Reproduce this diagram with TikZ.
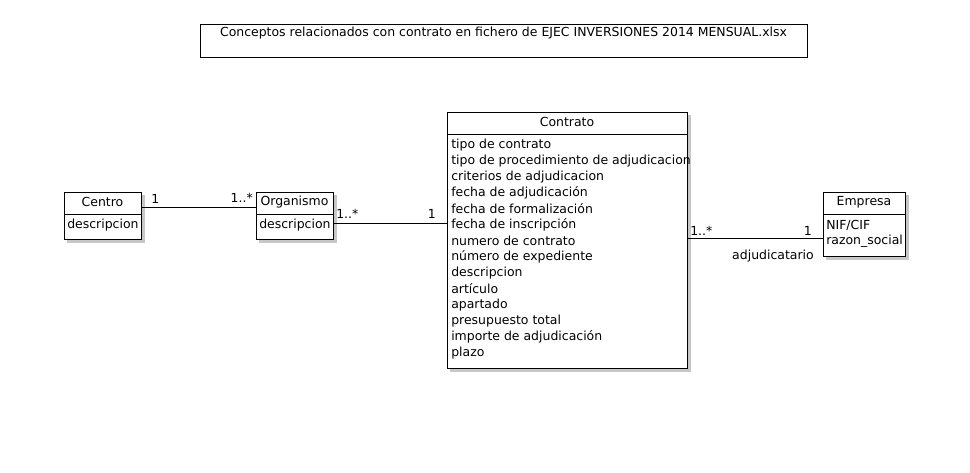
\documentclass[tikz,border=0pt]{standalone}
\usepackage{fontspec}
\setmainfont{DejaVu Sans}
\usetikzlibrary{fit,backgrounds}
\tikzset{
  cls/.style={draw, fill=white, inner sep=0pt, line width=0.75pt},
  ttl/.style={font=\fontsize{9.35}{11}\selectfont, inner sep=0pt, anchor=center},
  attr/.style={font=\fontsize{9.35}{11}\selectfont, inner sep=0pt, anchor=west},
  lbl/.style={font=\fontsize{9.35}{11}\selectfont, inner sep=0pt},
  conn/.style={line width=0.75pt},
  shad/.style={fill=black!22},
}
\begin{document}
\begin{tikzpicture}[x=0.75pt,y=-0.75pt]
\useasboundingbox (0,0) rectangle (970,472);

% title
\node[fit={(200,24) (807,57)}, draw, inner sep=0pt, line width=0.75pt] (title) {};
\node[ttl] (titletext) at (503.5,33) {Conceptos relacionados con contrato en fichero de EJEC INVERSIONES 2014 MENSUAL.xlsx};

% class boxes
\node[cls, fit={(64,192) (141,239)}] (centro) {};
\node[cls, fit={(256,192) (333,239)}] (organismo) {};
\node[cls, fit={(447,112) (687,368)}] (contrato) {};
\node[cls, fit={(823,192) (905,256)}] (empresa) {};

\begin{scope}[on background layer]
  \fill[white] (0,0) rectangle (970,472);
  \foreach \b in {centro,organismo,contrato,empresa}
    \fill[shad] ([shift={(3,3)}]\b.north west) rectangle ([shift={(3,3)}]\b.south east);
\end{scope}

% dividers
\draw[conn] ([yshift=-23*0.75pt]centro.north west) -- ([yshift=-23*0.75pt]centro.north east);
\draw[conn] ([yshift=-23*0.75pt]organismo.north west) -- ([yshift=-23*0.75pt]organismo.north east);
\draw[conn] ([yshift=-23*0.75pt]contrato.north west) -- ([yshift=-23*0.75pt]contrato.north east);
\draw[conn] ([yshift=-23*0.75pt]empresa.north west) -- ([yshift=-23*0.75pt]empresa.north east);

% headers
\node[ttl] (centroh) at (102.5,202) {Centro};
\node[ttl] (organismoh) at (294.5,202) {Organismo};
\node[ttl] (contratoh) at (567,122) {Contrato};
\node[ttl] (empresah) at (864,202) {Empresa};

% attributes
\node[attr] (centroa) at (67,225) {descripcion};
\node[attr] (organismoa) at (259,225) {descripcion};
\node[attr] (empa1) at (826,225) {NIF/CIF};
\node[attr] (empa2) at (826,241) {razon\_social};
\foreach \t [count=\i from 0] in {tipo de contrato,tipo de procedimiento de adjudicacion,criterios de adjudicacion,fecha de adjudicación,fecha de formalización,fecha de inscripción,numero de contrato,número de expediente,descripcion,artículo,apartado,presupuesto total,importe de adjudicación,plazo}
  \node[attr] (ca\i) at (451,145+16*\i) {\t};

% connectors
\draw[conn] ([yshift=-16*0.75pt]centro.north east) -- ([yshift=-16*0.75pt]organismo.north west);
\draw[conn] ([yshift=-32*0.75pt]organismo.north east) -- ([yshift=-112*0.75pt]contrato.north west);
\draw[conn] ([yshift=-127*0.75pt]contrato.north east) -- ([yshift=-47*0.75pt]empresa.north west);

% multiplicities
\node[lbl, anchor=west] (m1) at (151,199) {1};
\node[lbl, anchor=east] (m2) at (253,198) {1..*};
\node[lbl, anchor=west] (m3) at (336,214) {1..*};
\node[lbl, anchor=east] (m4) at (436,214) {1};
\node[lbl, anchor=west] (m5) at (690,231) {1..*};
\node[lbl, anchor=east] (m6) at (812,231) {1};
\node[lbl] (role) at (773,256) {adjudicatario};
\end{tikzpicture}
\end{document}
